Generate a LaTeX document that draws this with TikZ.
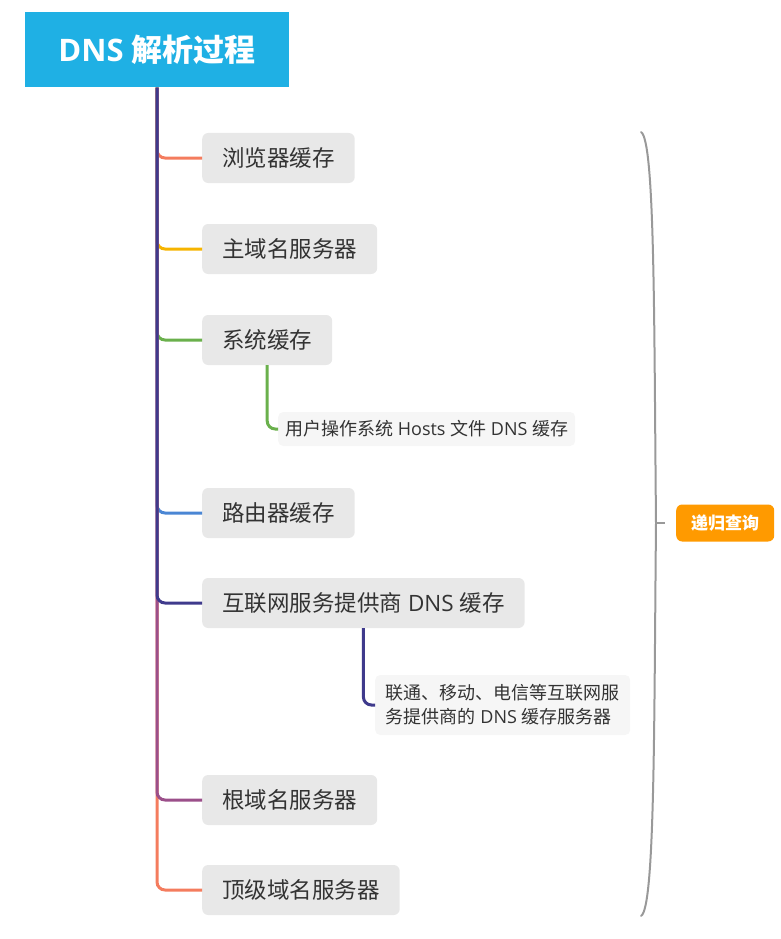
\documentclass[tikz,border=0pt]{standalone}
\usepackage{fontspec}
\setmainfont{Noto Sans CJK SC}
\newfontfamily\lat{Open Sans}
\usetikzlibrary{positioning}

\definecolor{titleblue}{HTML}{1FB0E4}
\definecolor{topicgray}{HTML}{E8E8E8}
\definecolor{subgray}{HTML}{F6F6F6}
\definecolor{textgray}{HTML}{333333}
\definecolor{coral}{HTML}{F47C5E}
\definecolor{amber}{HTML}{F6B400}
\definecolor{leaf}{HTML}{6AB04C}
\definecolor{sky}{HTML}{4A86D4}
\definecolor{indigo}{HTML}{3F3A8C}
\definecolor{plum}{HTML}{9B4F8A}
\definecolor{bracegray}{HTML}{999999}
\definecolor{tagorange}{HTML}{FF9A00}

\begin{document}
\begin{tikzpicture}[x=1pt, y=-1pt,
  main/.style = {fill=titleblue, text=white, minimum width=264pt, minimum height=75pt, font=\fontsize{31}{36}\selectfont\bfseries},
  topic/.style = {fill=topicgray, text=textgray, rounded corners=6pt, anchor=west, minimum height=50pt, inner xsep=20pt, inner ysep=0pt, font=\fontsize{22.5}{26}\selectfont},
  note/.style = {fill=subgray, text=textgray, rounded corners=5pt, anchor=west, align=left, inner xsep=7pt, inner ysep=0pt, font=\fontsize{18}{24}\selectfont},
  tag/.style = {fill=tagorange, text=white, rounded corners=6pt, anchor=west, minimum width=98pt, minimum height=37pt, font=\fontsize{17}{20}\selectfont\bfseries},
  branch/.style = {line width=3pt, rounded corners=8pt}]

\useasboundingbox (0,0) rectangle (780,939);

\node[main] (title) at (157,50) {{\lat\bfseries DNS }解析过程};

\node[topic] (browser) at (202,158) {浏览器缓存};
\node[topic] (primary) at (202,249) {主域名服务器};
\node[topic] (system) at (202,340) {系统缓存};
\node[note, minimum height=34pt] (hosts) at (278,429) {用户操作系统{\lat{} Hosts }文件{\lat{} DNS }缓存};
\node[topic] (router) at (202,513) {路由器缓存};
\node[topic] (isp) at (202,603) {互联网服务提供商{\lat{} DNS }缓存};
\node[note, minimum height=60pt, minimum width=255pt] (ispnote) at (375,705) {联通、移动、电信等互联网服\\务提供商的{\lat{} DNS }缓存服务器};
\node[topic] (root) at (202,800) {根域名服务器};
\node[topic] (tld) at (202,890) {顶级域名服务器};

\node[tag] (recur) at (676,523) {递归查询};

% branches, the later ones lie on the trunk
\draw[branch, coral] (title.south) |- (browser.west);
\draw[branch, amber] (title.south) |- (primary.west);
\draw[branch, leaf] (title.south) |- (system.west);
\draw[branch, sky] (title.south) |- (router.west);
\draw[branch, coral] (title.south) |- (tld.west);
\draw[branch, plum] (title.south) |- (root.west);
\draw[branch, indigo] (title.south) |- (isp.west);

\draw[branch, leaf] (system.south) |- (hosts.west);
\draw[branch, indigo] (isp.south) |- (ispnote.west);

% brace
\coordinate (tip) at (656,523);
\draw[bracegray, line width=2pt, line cap=round]
  (641,132) .. controls (655,140) and (654,320) .. (tip)
  .. controls (654,726) and (655,908) .. (641,916);
\draw[bracegray, line width=2pt] (tip) -- ++(9,0);

\end{tikzpicture}
\end{document}
